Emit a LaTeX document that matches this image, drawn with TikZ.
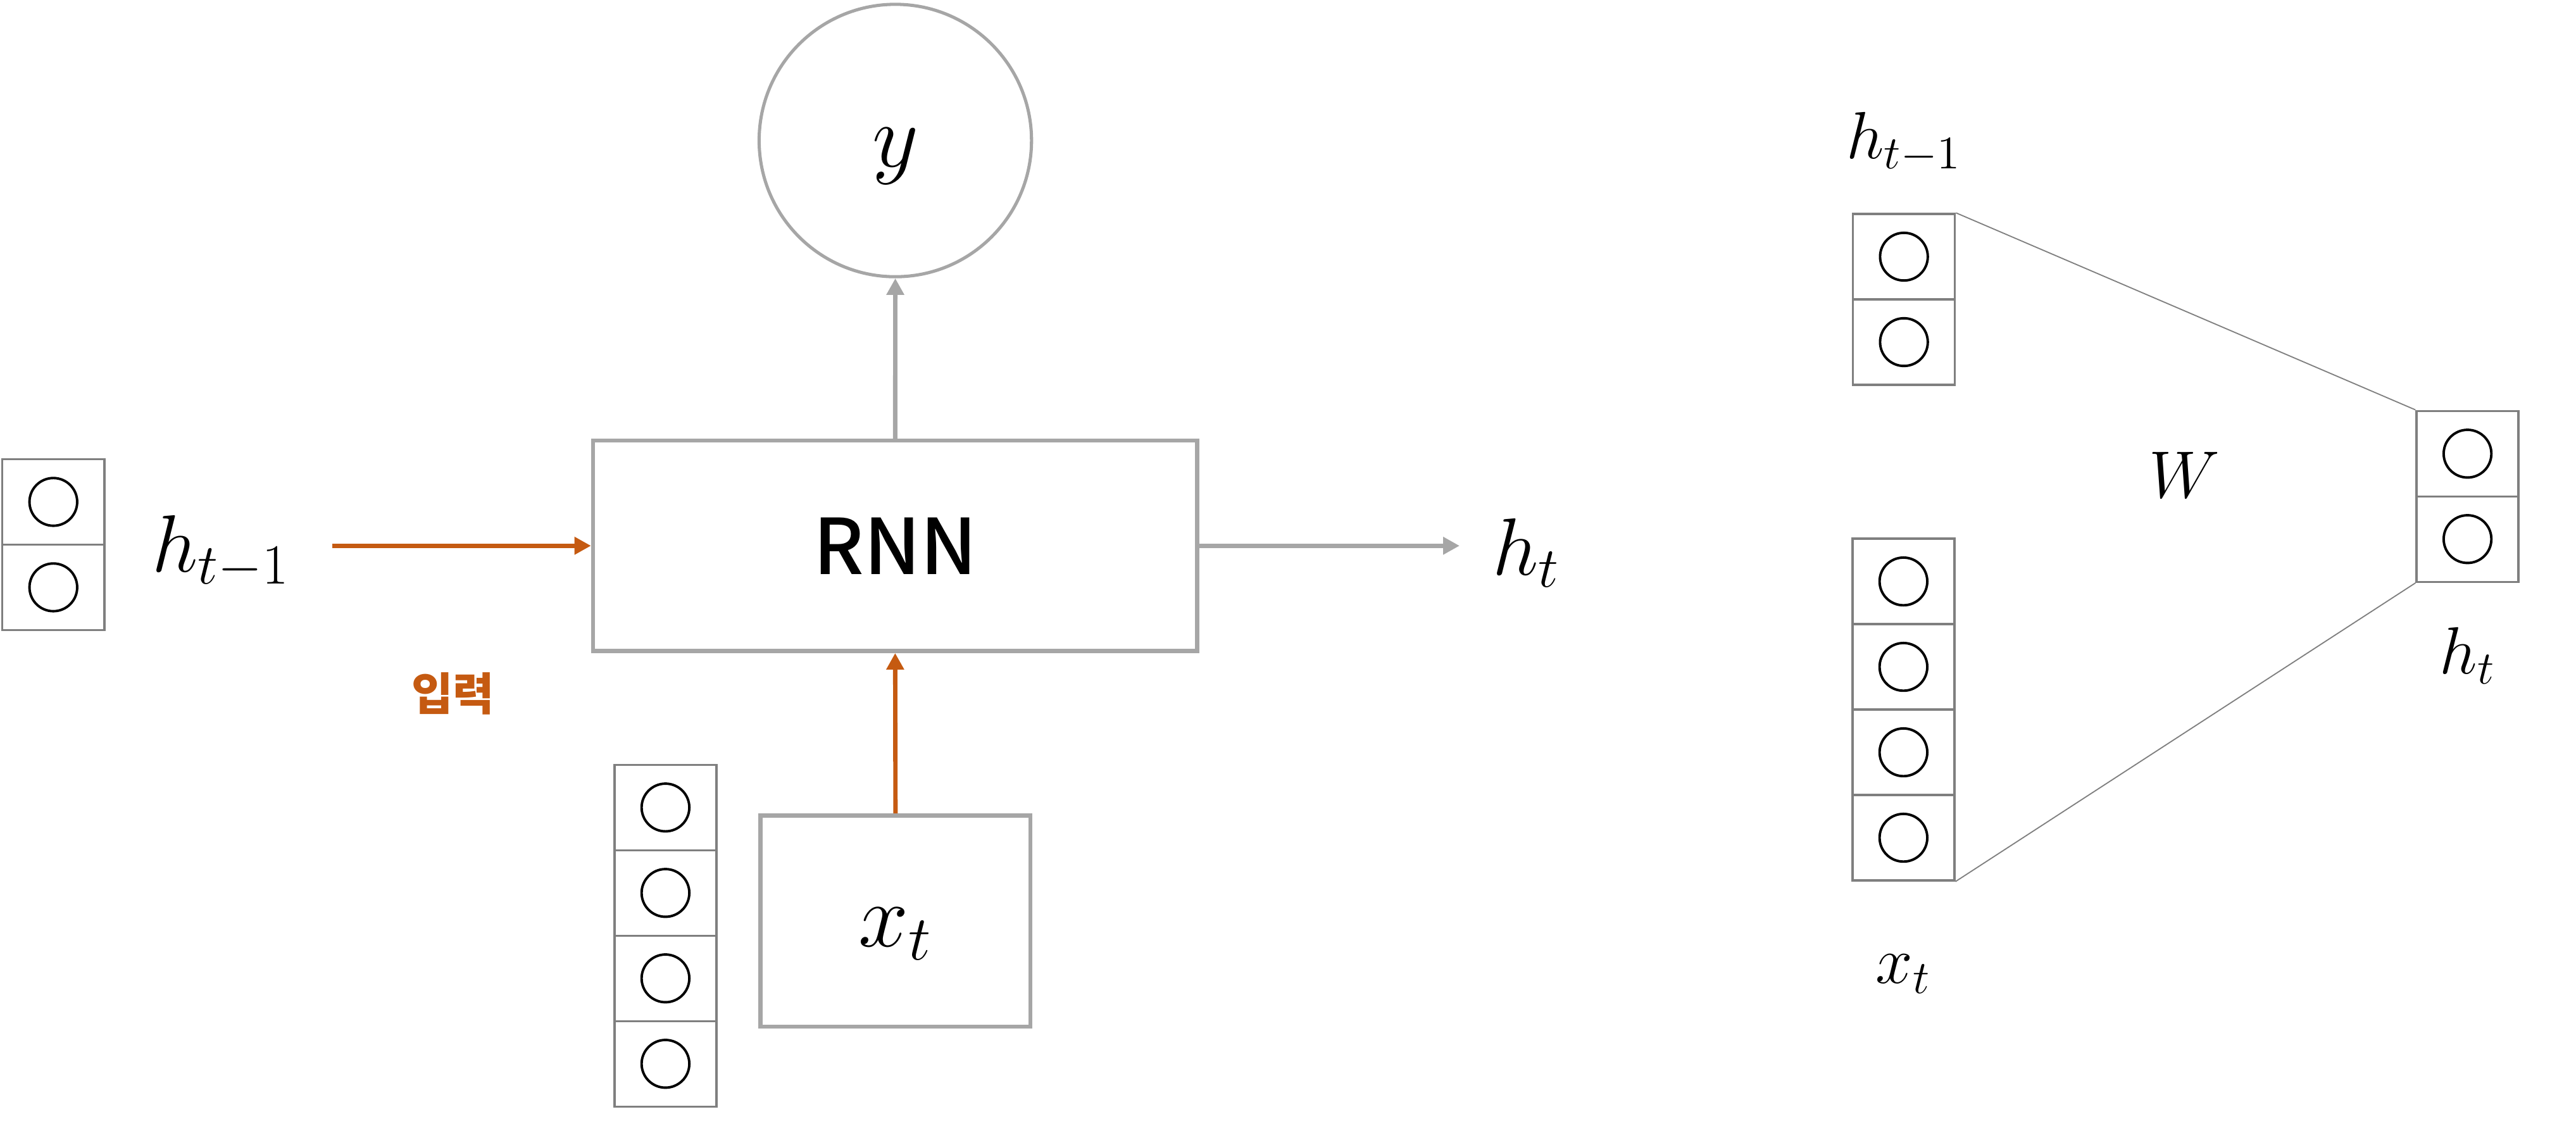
\RequirePackage{fix-cm}
\documentclass[tikz,border=0pt]{standalone}
\usepackage{fontspec}
\newfontfamily\kr{Noto Sans CJK KR}
\newfontfamily\krmed{Noto Sans CJK KR Medium}
\usepackage{tikz}
\usetikzlibrary{matrix, positioning, arrows.meta}

\definecolor{boxgray}{HTML}{A6A6A6}
\definecolor{cellgray}{HTML}{7F7F7F}
\definecolor{inorange}{HTML}{C55A11}

\tikzset{
	cell/.style={draw=cellgray, line width=0.75pt, minimum width=1.235cm, minimum height=1.035cm, inner sep=0pt,
		path picture={\draw[black, line width=0.85pt] (path picture bounding box.center) circle (0.289cm);}},
	vec/.style={matrix of nodes, nodes in empty cells, inner sep=0pt,
		column sep=-0.75pt, row sep=-0.75pt, nodes={cell}},
	block/.style={draw=boxgray, line width=1.4pt, inner sep=0pt},
	flow/.style={-{Triangle[length=0.2cm, width=0.205cm]}, line width=1.5pt},
	mathlbl/.style={font=\fontsize{28}{34}\selectfont},
	sidelbl/.style={font=\fontsize{23}{28}\selectfont, inner sep=0pt},
}

\begin{document}
\begin{tikzpicture}[x=0.02cm, y=-0.02cm]
		\useasboundingbox (0,0) rectangle (1560,681.5);
		
		% RNN cell
		\matrix (hin) [vec] at (32.3,329.8) { \\ \\ };
		\node[mathlbl] (hinlbl) at (133.7,334.2) {$h_{t-1}$};
		\node[block, minimum width=7.32cm, minimum height=2.55cm,
			font=\krmed\fontsize{26.5}{32}\selectfont] (rnn) at (542.1,330.5) {RNN};
		\node[draw=boxgray, line width=1.1pt, circle, minimum size=3.3cm, inner sep=0pt,
			font=\fontsize{31}{36}\selectfont, text height=24.3pt] (y) at (542.2,85.1) {$y$};
		\node[block, minimum width=3.27cm, minimum height=2.56cm,
			font=\fontsize{31}{36}\selectfont, text height=22pt] (xt) at (542.3,557.8) {$x_t$};
		\matrix (xin) [vec] at (403,566.6) { \\ \\ \\ \\ };
		\node[mathlbl] (houtlbl) at (924.4,334.8) {$h_t$};
		\node[font=\kr\bfseries\fontsize{15.5}{18}\selectfont, text=inorange] (inlbl) at (274.4,420.2) {입력};
		
		\coordinate (hinend) at (201.2,330.5);
		\coordinate (houtend) at (883.9,330.5);
		\draw[flow, inorange] (hinend) -- (rnn.west);
		\draw[flow, inorange] (xt.north) -- (rnn.south);
		\draw[flow, boxgray] (rnn.north) -- (y.south);
		\draw[flow, boxgray] (rnn.east) -- (houtend);
		
		% weights
		\matrix (wh) [vec] at (1153,181.3) { \\ \\ };
		\matrix (wx) [vec] at (1152.7,429.7) { \\ \\ \\ \\ };
		\matrix (wout) [vec] at (1494.3,300.6) { \\ \\ };
		\node[sidelbl, above=0.48cm of wh-1-1] (whlbl) {$h_{t-1}$};
		\node[sidelbl, below=0.88cm of wx-4-1] (wxlbl) {$x_t$};
		\node[sidelbl, below=0.53cm of wout-2-1] (woutlbl) {$h_t$};
		\node[sidelbl] (wlbl) at (1322.8,287.7) {$W$};
		
		\draw[cellgray, line width=0.4pt] (wh-1-1.north east) -- (wout-1-1.north west);
		\draw[cellgray, line width=0.4pt] (wx-4-1.south east) -- (wout-2-1.south west);
	\end{tikzpicture}
\end{document}
